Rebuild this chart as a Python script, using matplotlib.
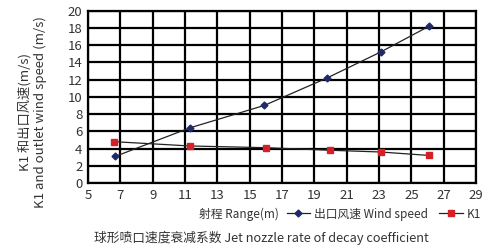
import matplotlib
matplotlib.use('Agg')
import matplotlib.pyplot as plt

plt.rcParams['font.family'] = ['Noto Sans CJK SC', 'DejaVu Sans']

# values
range_m = [6.7, 11.3, 15.9, 19.8, 23.1, 26.1]
wind_speed = [3.1, 6.4, 9.0, 12.2, 15.2, 18.2]
range_k1 = [6.6, 11.3, 16.0, 20.0, 23.1, 26.1]
k1 = [4.8, 4.3, 4.1, 3.8, 3.6, 3.2]
x_ticks = list(range(5, 30, 2))
y_ticks = list(range(0, 21, 2))

TXT = '#333333'

fig = plt.figure(figsize=(5.0, 2.48), dpi=100)
ax = fig.add_axes([0.176, 0.262, 0.776, 0.695])

l1, = ax.plot(range_m, wind_speed, color='#222222', lw=0.9, marker='D',
              ms=3.5, mfc='#1f2a6b', mec='#1f2a6b', zorder=3)
l2, = ax.plot(range_k1, k1, color='#222222', lw=0.9, marker='s',
              ms=5, mfc='#d42027', mec='#d42027', zorder=3)

ax.set_xlim(5, 29)
ax.set_ylim(0, 20)
ax.set_xticks(x_ticks)
ax.set_yticks(y_ticks)
ax.grid(True, color='black', lw=1.6)
for s in ax.spines.values():
    s.set_color('black')
    s.set_linewidth(1.6)
ax.tick_params(length=0, labelsize=9.5, colors=TXT, pad=4)

fig.text(0.050, 0.55, 'K1 和出口风速(m/s)', rotation=90, ha='center', va='center',
         fontsize=9.5, color=TXT)
fig.text(0.080, 0.55, 'K1 and outlet wind speed (m/s)', rotation=90, ha='center',
         va='center', fontsize=9.5, color=TXT)

fig.text(0.398, 0.137, '射程 Range(m)', ha='left', va='center', fontsize=8.5, color=TXT)
fig.legend([l1, l2], ['出口风速 Wind speed', 'K1'], ncol=2, frameon=False,
           loc='center right', bbox_to_anchor=(0.962, 0.137), fontsize=8.5,
           handlelength=2.0, handletextpad=0.3, columnspacing=1.0,
           labelcolor=TXT, borderpad=0, borderaxespad=0)

fig.text(0.523, 0.042, '球形喷口速度衰减系数 Jet nozzle rate of decay coefficient',
         ha='center', va='center', fontsize=9.2, color=TXT)

fig.savefig('out.png', dpi=100)
